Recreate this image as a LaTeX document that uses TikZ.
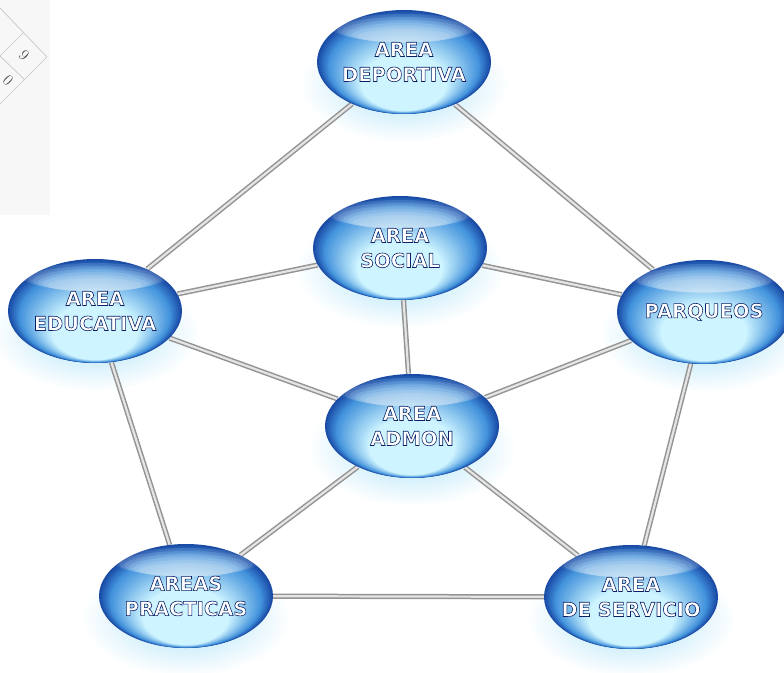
\documentclass[tikz,border=0pt]{standalone}
\usepackage{fontspec}
\usetikzlibrary{shapes.geometric,fadings,calc}
\newfontfamily\lblfont{DejaVu Sans}[BoldFeatures={FakeBold=3}]
\newcommand\lbl[1]{\special{pdf:bcolor [1 1 1] [0.04 0.12 0.40]}#1\special{pdf:ecolor}}
\definecolor{glassdark}{RGB}{26,76,166}
\definecolor{glassmid}{RGB}{66,146,220}
\definecolor{glasslight}{RGB}{205,244,255}
\definecolor{glowc}{RGB}{140,215,245}
\definecolor{artgray}{RGB}{175,175,175}
\tikzfading[name=glowfade, inner color=transparent!25, outer color=transparent!100]
\pgfdeclarelayer{bg}
\pgfdeclarelayer{glow}
\pgfdeclarelayer{body}
\pgfsetlayers{glow,bg,body,main}
\tikzset{
  area/.style={ellipse, minimum width=174pt, minimum height=104pt, inner ysep=0pt, inner xsep=-28pt,
    align=center, text=white, font=\lblfont\bfseries\fontsize{19.5}{25}\selectfont},
  conn/.style={draw=black!42, line width=1.5pt, double=black!10, double distance=2.2pt},
  grid/.style={draw=artgray!70, line width=0.7pt}
}
\newcommand\glassbody[1]{%
  \foreach \i in {0,...,24}{%
    \pgfmathsetmacro\tt{\i/24}%
    \pgfmathsetmacro\rx{87*(1-0.50*\tt)}%
    \pgfmathsetmacro\ry{52*(1-0.45*\tt)}%
    \pgfmathsetmacro\cy{52-\ry-3*\tt}%
    \pgfmathtruncatemacro\isdark{\tt<0.25 ? 1 : 0}%
    \ifnum\isdark=1
      \pgfmathtruncatemacro\pc{100*\tt/0.25}%
      \fill[glassmid!\pc!glassdark] ($(#1.center)+(0,\cy)$) ellipse ({\rx} and {\ry});
    \else
      \pgfmathtruncatemacro\pc{100*(\tt-0.25)/0.75}%
      \fill[glasslight!\pc!glassmid] ($(#1.center)+(0,\cy)$) ellipse ({\rx} and {\ry});
    \fi
  }%
  \foreach \k in {0,...,5}{%
    \fill[white, opacity=0.1] ($(#1.center)+(0,-34+1.6*\k)$) ellipse ({72-5*\k} and {14-1.4*\k});
  }%
}
\begin{document}
\begin{tikzpicture}[x=1pt,y=-1pt]
\useasboundingbox (0,0) rectangle (784,672);
% faint scan artefact in the corner
\fill[black!3] (0,0) rectangle (50,215);
\draw[grid] (0,8) -- (47,57) -- (0,104);
\draw[grid] (0,56) -- (25,80);
\draw[grid] (24,32) -- (0,56);
\node[text=black!75, rotate=-45, font=\fontsize{16}{16}\selectfont] (art9) at (24,55) {9};
\node[text=black!75, rotate=-45, font=\fontsize{16}{16}\selectfont] (art0) at (8,80) {0};
% nodes
\node[area] (dep) at (404,62) {\lbl{AREA\\DEPORTIVA}};
\node[area] (soc) at (400,248) {\lbl{AREA\\SOCIAL}};
\node[area] (edu) at (95,311) {\lbl{AREA\\EDUCATIVA}};
\node[area] (par) at (704,312) {\lbl{PARQUEOS}};
\node[area] (adm) at (412,426) {\lbl{AREA\\ADMON}};
\node[area] (pra) at (186,596) {\lbl{AREAS\\PRACTICAS}};
\node[area] (ser) at (631,597) {\lbl{AREA\\DE SERVICIO}};
\begin{pgfonlayer}{body}
\glassbody{dep}\glassbody{soc}\glassbody{edu}\glassbody{par}
\glassbody{adm}\glassbody{pra}\glassbody{ser}
\end{pgfonlayer}
\begin{pgfonlayer}{glow}
\foreach \n in {dep,soc,edu,par,adm,pra,ser}{
  \fill[glowc, path fading=glowfade] ($(\n.center)+(0,22)$) ellipse (104 and 58);
}
\end{pgfonlayer}
\begin{pgfonlayer}{bg}
\draw[conn] (dep) -- (edu);
\draw[conn] (dep) -- (par);
\draw[conn] (soc) -- (edu);
\draw[conn] (soc) -- (par);
\draw[conn] (soc) -- (adm);
\draw[conn] (edu) -- (adm);
\draw[conn] (par) -- (adm);
\draw[conn] (edu) -- (pra);
\draw[conn] (par) -- (ser);
\draw[conn] (adm) -- (pra);
\draw[conn] (adm) -- (ser);
\draw[conn] (pra) -- (ser);
\end{pgfonlayer}
\end{tikzpicture}
\end{document}
